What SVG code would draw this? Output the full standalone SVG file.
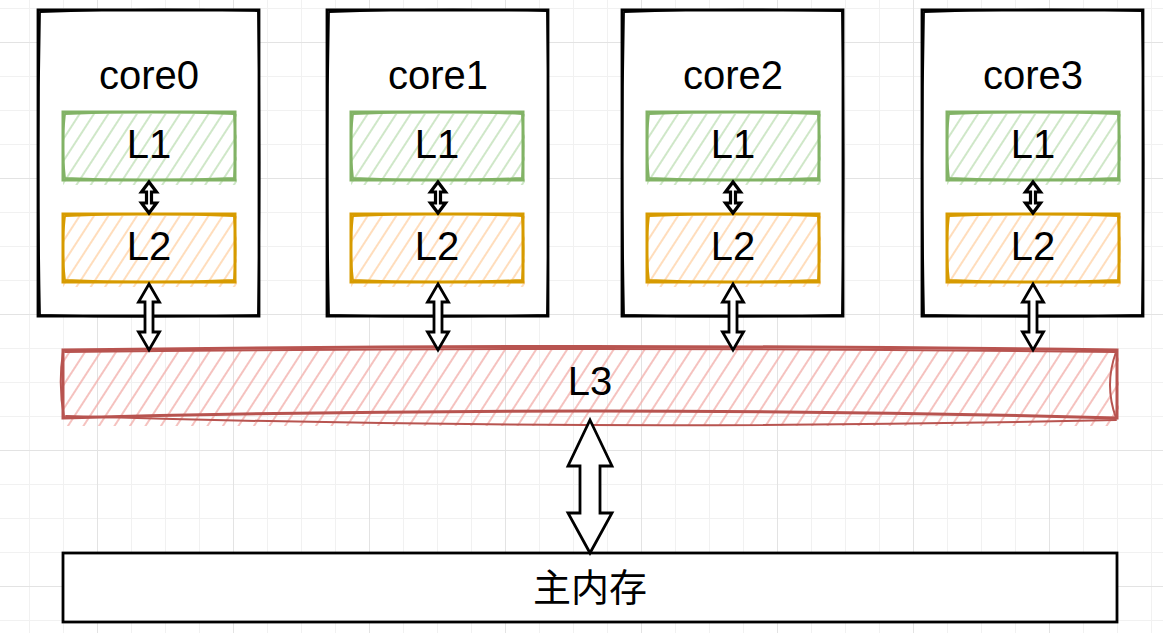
<svg xmlns="http://www.w3.org/2000/svg" xmlns:xlink="http://www.w3.org/1999/xlink" width="1163" height="633" viewBox="0 0 1163 633">
<style>
.txt{font-family:"Liberation Sans",Arial,sans-serif;font-size:40px;text-anchor:middle;fill:#000}
.cjk{font-family:"Liberation Sans","Noto Sans CJK SC",sans-serif;font-size:38px;text-anchor:middle;fill:#000}
.core-a{fill:#fff;stroke:#000;stroke-width:2.8}
.core-b{fill:none;stroke:#000;stroke-width:1.8;stroke-linecap:round}
.g-a{fill:none;stroke:#82b366;stroke-width:3}
.g-b{fill:none;stroke:#82b366;stroke-width:1.8;stroke-linecap:round}
.o-a{fill:none;stroke:#d79b00;stroke-width:3}
.o-b{fill:none;stroke:#d79b00;stroke-width:1.8;stroke-linecap:round}
.r-a{fill:none;stroke:#b85450;stroke-width:3;stroke-linecap:round}
.r-b{fill:none;stroke:#b85450;stroke-width:2;stroke-linecap:round}
.arr{fill:#fff;stroke:#000;stroke-width:2.8;stroke-linejoin:miter}
.arr-s{fill:#fff;stroke:#000;stroke-width:3.2;stroke-linejoin:miter}
</style>
<defs>
<pattern id="grid" width="136" height="136" patternUnits="userSpaceOnUse" x="97" y="42">
<path d="M34.5,0V136M68.5,0V136M102.5,0V136M0,34.5H136M0,68.5H136M0,102.5H136" stroke="#f1f1f1" stroke-width="1" fill="none"/>
<path d="M0.5,0V136M0,0.5H136" stroke="#e3e3e3" stroke-width="1" fill="none"/>
</pattern>
<pattern id="hg" width="12" height="12" patternUnits="userSpaceOnUse" patternTransform="rotate(33)">
<line x1="3" y1="0" x2="3" y2="12" stroke="#bfdfb6" stroke-width="1.5"/>
</pattern>
<pattern id="ho" width="12" height="12" patternUnits="userSpaceOnUse" patternTransform="rotate(33)">
<line x1="3" y1="0" x2="3" y2="12" stroke="#ffd2a6" stroke-width="1.5"/>
</pattern>
<pattern id="hr" width="13" height="13" patternUnits="userSpaceOnUse" patternTransform="rotate(33)">
<line x1="3" y1="0" x2="3" y2="13" stroke="#f2aeaa" stroke-width="1.5"/>
</pattern>
<g id="coreShape">
<path class="core-a" d="M0,0H221V306H0Z"/>
<path class="core-b" d="M2,2Q110,-2 220,1Q223,150 220,305Q110,308 2,305Q-1,150 2,2"/>
</g>
<g id="l1Shape">
<rect x="0" y="2" width="174" height="71" fill="url(#hg)"/>
<path class="g-a" d="M0,0H172V68H0Z"/>
<path class="g-b" d="M2,2Q86,-2 171,2Q174,34 171,66Q86,70 2,66Q-2,34 2,2"/>
</g>
<g id="l2Shape">
<rect x="0" y="2" width="174" height="71" fill="url(#ho)"/>
<path class="o-a" d="M0,0H172V68H0Z"/>
<path class="o-b" d="M2,2Q86,-2 171,2Q174,34 171,66Q86,70 2,66Q-2,34 2,2"/>
</g>
</defs>
<rect width="1163" height="633" fill="#fff"/>
<rect width="1163" height="633" fill="url(#grid)"/>

<g id="L3">
<rect x="63" y="350" width="1056" height="76" fill="url(#hr)"/>
<path class="r-a" d="M63,350Q590,343 1117,350L1117,418Q590,404 63,418Z"/>
<path class="r-b" d="M65,352Q590,346 1116,352M66,416Q590,432 1116,420M63,352Q58,385 64,417M1116,352Q1104,385 1116,418"/>
<text class="txt" x="590" y="395">L3</text>
</g>

<g id="mainmem">
<rect x="63" y="553" width="1054" height="69" fill="#fff" stroke="#000" stroke-width="2.8"/>
<text class="cjk" x="590" y="601">主内存</text>
</g>

<g id="core0" transform="translate(38,10)">
<use xlink:href="#coreShape"/>
<text class="txt" x="111" y="79">core0</text>
<g id="core0-L1" transform="translate(25,102)"><use xlink:href="#l1Shape"/><text class="txt" x="86" y="46">L1</text></g>
<g id="core0-L2" transform="translate(25,204)"><use xlink:href="#l2Shape"/><text class="txt" x="86" y="46">L2</text></g>
</g>
<g id="core1" transform="translate(327,10)">
<use xlink:href="#coreShape"/>
<text class="txt" x="111" y="79">core1</text>
<g id="core1-L1" transform="translate(24,102)"><use xlink:href="#l1Shape"/><text class="txt" x="86" y="46">L1</text></g>
<g id="core1-L2" transform="translate(24,204)"><use xlink:href="#l2Shape"/><text class="txt" x="86" y="46">L2</text></g>
</g>
<g id="core2" transform="translate(622,10)">
<use xlink:href="#coreShape"/>
<text class="txt" x="111" y="79">core2</text>
<g id="core2-L1" transform="translate(25,102)"><use xlink:href="#l1Shape"/><text class="txt" x="86" y="46">L1</text></g>
<g id="core2-L2" transform="translate(25,204)"><use xlink:href="#l2Shape"/><text class="txt" x="86" y="46">L2</text></g>
</g>
<g id="core3" transform="translate(922,10)">
<use xlink:href="#coreShape"/>
<text class="txt" x="111" y="79">core3</text>
<g id="core3-L1" transform="translate(25,102)"><use xlink:href="#l1Shape"/><text class="txt" x="86" y="46">L1</text></g>
<g id="core3-L2" transform="translate(25,204)"><use xlink:href="#l2Shape"/><text class="txt" x="86" y="46">L2</text></g>
</g>

<g id="connectors">
<polygon class="arr-s" points="149,182 156.5,192 151.5,192 151.5,203 156.5,203 149,213 141.5,203 146.5,203 146.5,192 141.5,192"/>
<polygon class="arr-s" points="438,182 445.5,192 440.5,192 440.5,203 445.5,203 438,213 430.5,203 435.5,203 435.5,192 430.5,192"/>
<polygon class="arr-s" points="733,182 740.5,192 735.5,192 735.5,203 740.5,203 733,213 725.5,203 730.5,203 730.5,192 725.5,192"/>
<polygon class="arr-s" points="1033,182 1040.5,192 1035.5,192 1035.5,203 1040.5,203 1033,213 1025.5,203 1030.5,203 1030.5,192 1025.5,192"/>
<polygon class="arr" points="149,284 159.5,302 153,302 153,332 159.5,332 149,350 138.5,332 145,332 145,302 138.5,302"/>
<polygon class="arr" points="438,284 448.5,302 442,302 442,332 448.5,332 438,350 427.5,332 434,332 434,302 427.5,302"/>
<polygon class="arr" points="733,284 743.5,302 737,302 737,332 743.5,332 733,350 722.5,332 729,332 729,302 722.5,302"/>
<polygon class="arr" points="1033,284 1043.5,302 1037,302 1037,332 1043.5,332 1033,350 1022.5,332 1029,332 1029,302 1022.5,302"/>
<polygon class="arr" points="590,420 612,466 600,466 600,513 612,513 590,553 568,513 580,513 580,466 568,466"/>
</g>
</svg>
